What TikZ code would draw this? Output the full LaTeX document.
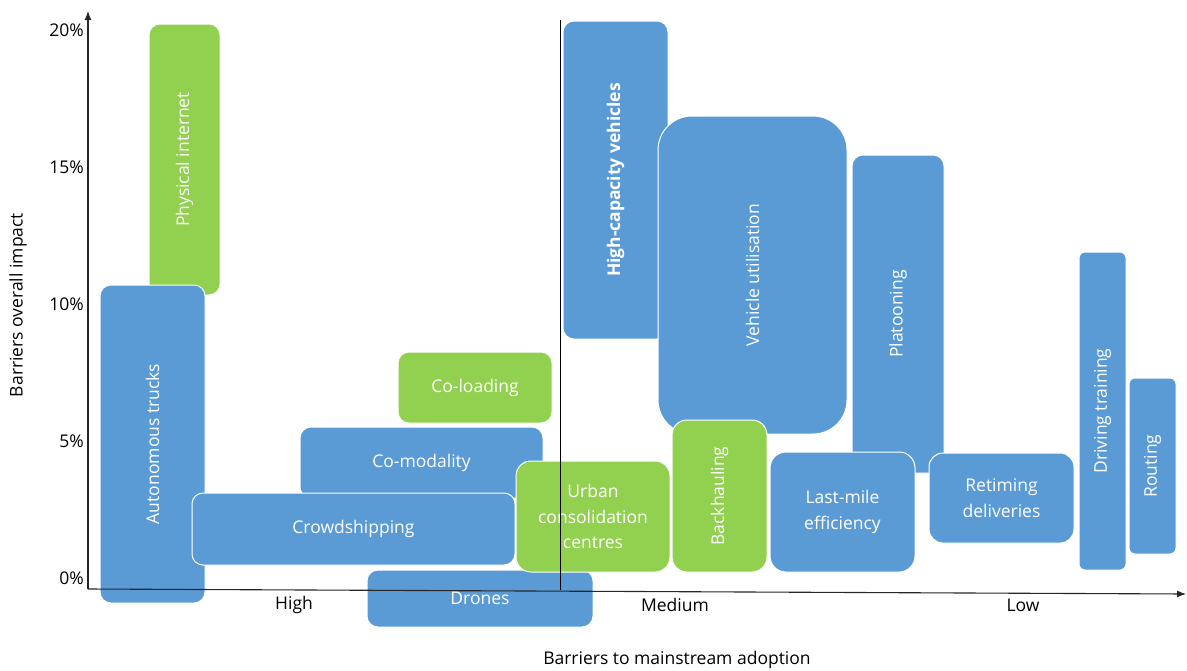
\documentclass[tikz,border=0pt]{standalone}
\usepackage{fontspec}
\setmainfont{Open Sans}
\usetikzlibrary{arrows.meta}
\definecolor{bblue}{HTML}{5B9BD5}
\definecolor{bgreen}{HTML}{92D050}
\tikzset{
  bb/.style={draw=white, line width=1pt, text=white, align=center, inner sep=0pt, rounded corners=11pt, font=\fontsize{17.5}{25.5}\selectfont},
  blu/.style={bb, fill=bblue},
  grn/.style={bb, fill=bgreen},
  lbl/.style={text=black, inner sep=0pt, font=\fontsize{17.5}{22}\selectfont},
  axis/.style={line width=1.1pt, draw=black!85, -{Latex[length=9pt,width=7pt]}}
}
\begin{document}
\begin{tikzpicture}[x=1pt,y=-1pt]
\useasboundingbox (0,0) rectangle (1187,670);
% boxes
\node[grn, minimum width=71pt, minimum height=271pt] (phys) at (184.5,159.5) {\rotatebox{90}{Physical internet}};
\node[blu, minimum width=105pt, minimum height=318pt] (auto) at (152.5,444) {\rotatebox{90}{Autonomous trucks}};
\node[blu, minimum width=105pt, minimum height=318pt] (hcv) at (615.5,180) {\rotatebox{90}{\bfseries High-capacity vehicles}};
\node[blu, minimum width=189pt, minimum height=318pt, rounded corners=34pt] (vu) at (752.5,275) {\rotatebox{90}{Vehicle utilisation}};
\node[blu, minimum width=92pt, minimum height=318pt] (plat) at (898,314) {\rotatebox{90}{Platooning}};
\node[grn, minimum width=154pt, minimum height=71pt] (colo) at (475,387.5) {Co-loading};
\node[blu, minimum width=243pt, minimum height=71pt] (comod) at (421.5,462.5) {Co-modality};
\node[blu, minimum width=323pt, minimum height=72pt] (crowd) at (353.5,529) {Crowdshipping};
\node[blu, minimum width=226pt, minimum height=57pt] (drones) at (480,598.5) {Drones};
\node[grn, minimum width=154pt, minimum height=111pt, rounded corners=15pt] (urban) at (593,516.5) {Urban\\consolidation\\centres};
\node[grn, minimum width=95pt, minimum height=152pt, rounded corners=15pt] (back) at (719.5,496) {\rotatebox{90}{Backhauling}};
\node[blu, minimum width=145pt, minimum height=120pt, rounded corners=16pt] (lm) at (842.5,512) {Last-mile\\efficiency};
\node[blu, minimum width=145pt, minimum height=90pt, rounded corners=14pt] (ret) at (1001.5,498) {Retiming\\deliveries};
\node[blu, minimum width=47pt, minimum height=318pt, rounded corners=6pt] (drive) at (1102.5,411) {\rotatebox{90}{Driving training}};
\node[blu, minimum width=47pt, minimum height=176pt, rounded corners=6pt] (rout) at (1152.5,466) {\rotatebox{90}{Routing}};
% axes
\coordinate (o) at (88,589);
\coordinate (ytop) at (88,11);
\coordinate (xend) at (1186,594);
\draw[axis] (o) -- (ytop);
\draw[axis] (o) -- (xend);
\coordinate (vtop) at (560.5,20);
\coordinate (vbot) at (560.5,590);
\draw[line width=1.2pt] (vtop) -- (vbot);
% tick labels
\node[lbl, anchor=east] (t20) at (84,30) {20\%};
\node[lbl, anchor=east] (t15) at (84,167) {15\%};
\node[lbl, anchor=east] (t10) at (84,304) {10\%};
\node[lbl, anchor=east] (t5) at (84,441) {5\%};
\node[lbl, anchor=east] (t0) at (84,578) {0\%};
\node[lbl] (high) at (294,605) {High};
\node[lbl] (med) at (675,605) {Medium};
\node[lbl] (low) at (1023,605) {Low};
\node[lbl] (xl) at (677,660) {Barriers to mainstream adoption};
\node[lbl, rotate=90] (yl) at (18,305) {Barriers overall impact};
\end{tikzpicture}
\end{document}
